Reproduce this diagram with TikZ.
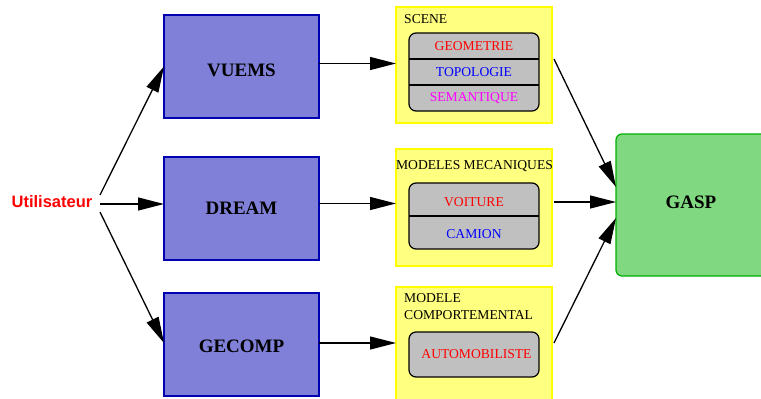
\documentclass[tikz,border=0pt]{standalone}
\usepackage{fontspec}
\setmainfont{Liberation Serif}
\newfontfamily\helv{Liberation Sans}
\usetikzlibrary{arrows.meta,calc}
\definecolor{boxblue}{RGB}{128,128,216}
\definecolor{boxblueline}{RGB}{0,0,176}
\definecolor{boxyellow}{RGB}{255,255,128}
\definecolor{boxyellowline}{RGB}{255,255,0}
\definecolor{boxgray}{RGB}{192,192,192}
\definecolor{boxgreen}{RGB}{128,216,128}
\definecolor{boxgreenline}{RGB}{0,176,0}
\definecolor{textmagenta}{RGB}{255,0,255}
\tikzset{
  bluebox/.style={draw=boxblueline, fill=boxblue, line width=1.2pt, minimum width=155pt, minimum height=103pt, inner sep=0pt, outer sep=0pt, font=\fontsize{19}{22}\selectfont\bfseries},
  yellowbox/.style={draw=boxyellowline, fill=boxyellow, line width=1.2pt, minimum width=156pt, inner sep=0pt, outer sep=0pt},
  graybox/.style={draw=black, fill=boxgray, line width=1.2pt, rounded corners=7pt, minimum width=130pt, inner sep=0pt, outer sep=0pt},
  greenbox/.style={draw=boxgreenline, fill=boxgreen, line width=1.2pt, rounded corners=6pt, minimum width=160pt, minimum height=142pt, inner sep=0pt, outer sep=0pt, font=\fontsize{19}{22}\selectfont\bfseries},
  smalltext/.style={font=\fontsize{13.6}{16.5}\selectfont, inner sep=0pt},
  arr/.style={line width=1.3pt, -{Triangle[length=26pt,width=13pt]}},
  divider/.style={line width=1.2pt}
}
\begin{document}
\begin{tikzpicture}[x=1pt,y=-1pt]
\useasboundingbox (0,0) rectangle (761,399);
\begin{scope}
\clip (0,0) rectangle (761,399);
% user
\node[font=\helv\fontsize{16.5}{18}\selectfont\bfseries, text=red, inner sep=0pt] (util) at (52,202) {Utilisateur};
\coordinate (u1) at (100,195);
\coordinate (u2) at (100,204);
\coordinate (u3) at (100,212);
% blue boxes
\node[bluebox] (vuems) at (241.5,66.5) {\raisebox{-3.5pt}[\height][0pt]{VUEMS}};
\node[bluebox] (dream) at (241.5,208.5) {DREAM};
\node[bluebox] (gecomp) at (241.5,344.5) {\raisebox{-1.5pt}[\height][0pt]{GECOMP}};
% yellow boxes
\node[yellowbox, minimum height=116pt] (scene) at (474,65) {};
\node[yellowbox, minimum height=117pt] (meca) at (474,207.5) {};
\node[yellowbox, minimum height=120pt] (comp) at (474,347) {};
% labels of yellow boxes
\node[smalltext, anchor=north west] (scenelab) at (404,14.5) {SCENE};
\node[smalltext] (mecalab) at (474.5,166) {MODELES MECANIQUES};
\node[smalltext, anchor=north west, align=left] (complab) at (404,293.5) {MODELE\\COMPORTEMENTAL};
% gray boxes
\node[graybox, minimum height=78pt] (g1) at (474,72) {};
\draw[divider] (g1.west |- 0,59) -- (g1.east |- 0,59);
\draw[divider] (g1.west |- 0,85) -- (g1.east |- 0,85);
\node[smalltext, text=red] (geo) at (474,46.5) {GEOMETRIE};
\node[smalltext, text=blue] (topo) at (474,72.5) {TOPOLOGIE};
\node[smalltext, text=textmagenta] (sema) at (474,98.5) {SEMANTIQUE};
\node[graybox, minimum height=66pt] (g2) at (474,216) {};
\draw[divider] (g2.west) -- (g2.east);
\node[smalltext, text=red] (voit) at (474,202) {VOITURE};
\node[smalltext, text=blue] (cam) at (474,234) {CAMION};
\node[graybox, minimum height=45pt] (g3) at (474,354.5) {};
\node[smalltext, text=red] (auto) at (476.5,354.5) {AUTOMOBILISTE};
% green box
\node[greenbox, anchor=north west] (gasp) at (616,134) {};
\node[font=\fontsize{19}{22}\selectfont\bfseries, inner sep=0pt] (gasplab) at (691,202) {GASP};
% arrows
\draw[arr] (u1) -- (vuems.west);
\draw[arr] (u2) -- (dream.west |- u2);
\draw[arr] (u3) -- ($(gecomp.west)+(0,-1.5)$);
\coordinate (b1) at (319,63.5);
\coordinate (b2) at (319,203.5);
\coordinate (b3) at (319,343);
\draw[arr] (b1) -- (b1 -| scene.west);
\draw[arr] (b2) -- (b2 -| meca.west);
\draw[arr] (b3) -- (b3 -| comp.west);
\coordinate (y1) at (554,59);
\coordinate (y2) at (554,202);
\coordinate (y3) at (554,343);
\draw[arr] (y1) -- (gasp.west |- 0,187);
\draw[arr] (y2) -- (gasp.west |- y2);
\draw[arr] (y3) -- (gasp.west |- 0,218);
\end{scope}
\end{tikzpicture}
\end{document}
